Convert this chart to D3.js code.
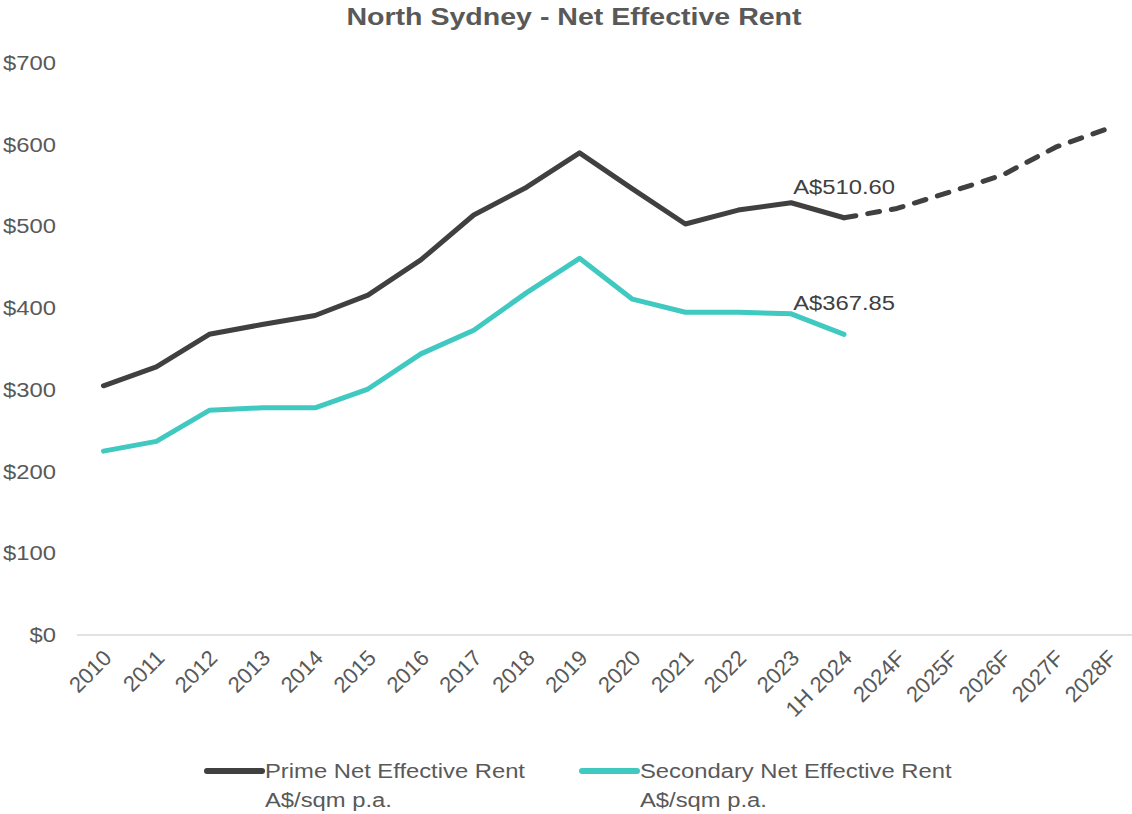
<!DOCTYPE html>
<html>
<head>
<meta charset="utf-8">
<script src="https://cdn.jsdelivr.net/npm/d3@7"></script>
<style>
  html, body { margin: 0; padding: 0; background: #fff; }
  svg { display: block; font-family: "Liberation Sans", Arial, sans-serif; }
</style>
</head>
<body>
<svg id="chart" width="1132" height="814"></svg>
<script>
// Periods on the x axis
const periods = ["2010", "2011", "2012", "2013", "2014", "2015", "2016", "2017", "2018", "2019",
  "2020", "2021", "2022", "2023", "1H 2024", "2024F", "2025F", "2026F", "2027F", "2028F"];

// Prime net effective rent, A$/sqm p.a. (actuals to 1H 2024, then forecast)
const primeActual = [305, 328, 368, 380, 391, 416, 459, 514, 548, 590, 546, 503, 520, 529, 510.60];
const primeForecast = [510.60, 522, 542, 563, 597, 620];

// Secondary net effective rent, A$/sqm p.a.
const secondaryActual = [225, 237, 275, 278, 278, 301, 344, 373, 419, 461, 411, 395, 395, 393, 367.85];

const yTicks = [0, 100, 200, 300, 400, 500, 600, 700];

const svg = d3.select("#chart");
const textColor = "#595959";
const primeColor = "#404040";
const secondaryColor = "#40C9C0";
const stretch = 1.19; // text is set slightly wide

const x = d3.scaleBand().domain(periods).range([77, 1135]).padding(0);
const y = d3.scaleLinear().domain([0, 700]).range([635, 63]);
const cx = p => x(p) + x.bandwidth() / 2;

// Title
svg.append("text")
  .attr("transform", `translate(574,25) scale(${stretch},1)`)
  .attr("text-anchor", "middle")
  .attr("font-size", 24).attr("font-weight", "bold")
  .attr("fill", textColor)
  .text("North Sydney - Net Effective Rent");

// Y axis labels
svg.append("g").selectAll("text").data(yTicks).join("text")
  .attr("transform", d => `translate(56,${y(d)}) scale(${stretch},1)`)
  .attr("dy", "0.35em")
  .attr("text-anchor", "end")
  .attr("font-size", 20).attr("fill", textColor)
  .text(d => "$" + d);

// Baseline
svg.append("line")
  .attr("x1", 77).attr("x2", 1132)
  .attr("y1", y(0)).attr("y2", y(0))
  .attr("stroke", "#d9d9d9").attr("stroke-width", 1.5);

// X axis labels, rotated
svg.append("g").selectAll("text").data(periods).join("text")
  .attr("transform", d => `translate(${cx(d) + 4},${654}) rotate(-45)`)
  .attr("text-anchor", "end")
  .attr("dy", "0.35em")
  .attr("font-size", 22).attr("fill", textColor)
  .text(d => d);

const line = d3.line().x(d => cx(d.p)).y(d => y(d.v));

const primeA = primeActual.map((v, i) => ({ p: periods[i], v }));
const primeF = primeForecast.map((v, i) => ({ p: periods[14 + i], v }));
const secA = secondaryActual.map((v, i) => ({ p: periods[i], v }));

svg.append("path").datum(secA)
  .attr("d", line).attr("fill", "none")
  .attr("stroke", secondaryColor).attr("stroke-width", 5)
  .attr("stroke-linejoin", "round").attr("stroke-linecap", "round");

svg.append("path").datum(primeA)
  .attr("d", line).attr("fill", "none")
  .attr("stroke", primeColor).attr("stroke-width", 5)
  .attr("stroke-linejoin", "round").attr("stroke-linecap", "round");

svg.append("path").datum(primeF)
  .attr("d", line).attr("fill", "none")
  .attr("stroke", primeColor).attr("stroke-width", 5)
  .attr("stroke-dasharray", "12,12")
  .attr("stroke-linejoin", "round").attr("stroke-linecap", "round");

// Value labels at 1H 2024
const last = periods[14];
[primeActual[14], secondaryActual[14]].forEach(v => {
  svg.append("text")
    .attr("transform", `translate(${cx(last)},${y(v) - 31}) scale(${stretch},1)`)
    .attr("dy", "0.35em")
    .attr("text-anchor", "middle")
    .attr("font-size", 20).attr("fill", primeColor)
    .text("A$" + d3.format(".2f")(v));
});

// Legend
const legend = [
  { name: "Prime Net Effective Rent", color: primeColor, x: 207 },
  { name: "Secondary Net Effective Rent", color: secondaryColor, x: 582 }
];
legend.forEach(l => {
  svg.append("line")
    .attr("x1", l.x).attr("x2", l.x + 55)
    .attr("y1", 771).attr("y2", 771)
    .attr("stroke", l.color).attr("stroke-width", 6)
    .attr("stroke-linecap", "round");
  const t = svg.append("text")
    .attr("transform", `translate(${l.x + 58},771) scale(${stretch},1)`)
    .attr("font-size", 20).attr("fill", textColor);
  t.append("tspan").attr("x", 0).attr("dy", "0.35em").text(l.name);
  t.append("tspan").attr("x", 0).attr("dy", 29).text("A$/sqm p.a.");
});
</script>
</body>
</html>
